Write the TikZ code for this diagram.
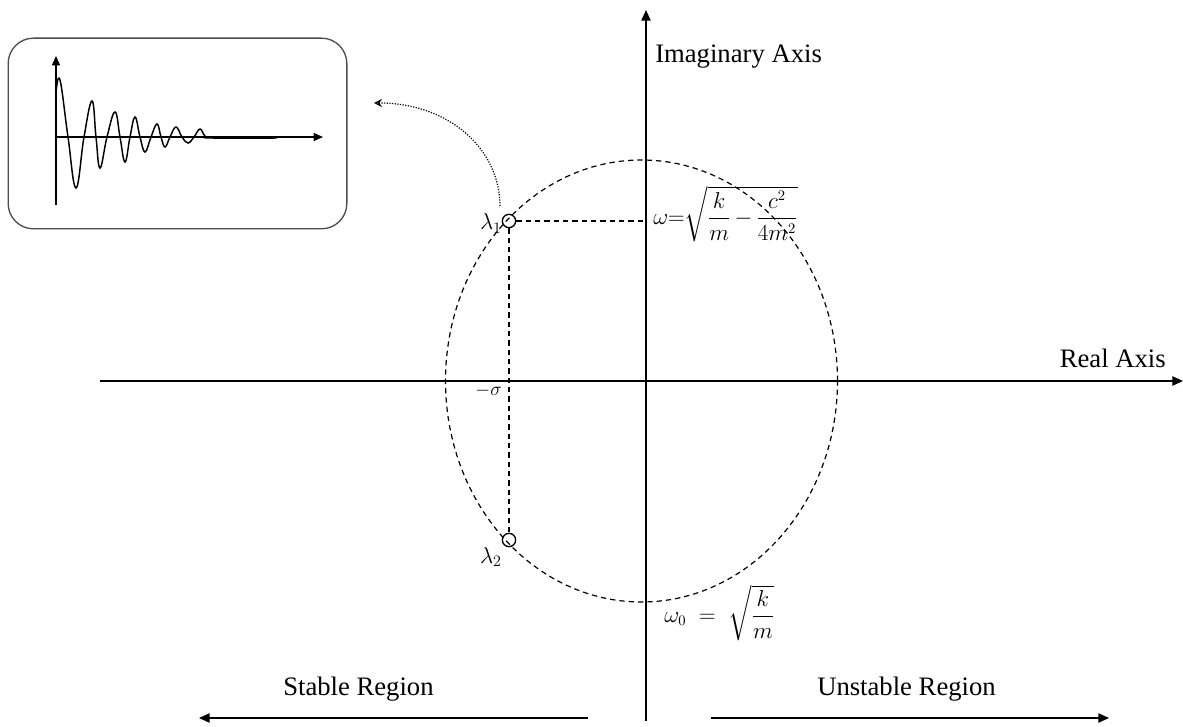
\documentclass[tikz,border=0pt]{standalone}
\usepackage{fontspec}
\setmainfont{Liberation Serif}
\usepackage{amsmath}
\usetikzlibrary{arrows.meta}
\begin{document}
\begin{tikzpicture}[x=0.75pt,y=-0.75pt,
  axis/.style={line width=1.1pt,-{Triangle[length=8pt,width=7pt]}},
  dsh/.style={line width=0.9pt,dash pattern=on 4pt off 3pt},
  lbl/.style={font=\fontsize{20}{24}\selectfont, inner sep=0pt},
  mlbl/.style={font=\fontsize{16}{19}\selectfont, inner sep=0pt},
  slbl/.style={font=\fontsize{15}{18}\selectfont, inner sep=0pt},
  plbl/.style={font=\fontsize{18}{21}\selectfont, inner sep=0pt},
  pole/.style={circle,draw,line width=1pt,minimum size=10pt,inner sep=0pt},
  insetbox/.style={draw=black!70,line width=1pt,rounded corners=19pt,minimum width=254pt,minimum height=143pt,inner sep=0pt},
  small axis/.style={line width=0.9pt,-{Triangle[length=7pt,width=6pt]}},
  dotarrow/.style={line width=0.9pt,dash pattern=on 0.9pt off 1.1pt,-{Stealth[length=6pt,width=6pt,open]}}
]
\useasboundingbox (0,0) rectangle (1183,727);

% axes
\coordinate (xL) at (100,381);
\coordinate (xR) at (1183,381);
\coordinate (yB) at (646,721);
\coordinate (yT) at (646,10);
\draw[axis] (xL) -- (xR);
\draw[axis] (yB) -- (yT);

% dashed ellipse
\draw[dsh] (641.5,381) ellipse [x radius=147pt, y radius=165.75pt];

% poles
\node[pole] (l1) at (509,221) {};
\node[pole] (l2) at (509,540) {};
\coordinate (w) at (646,221);
\draw[dsh] (l1) -- (w);
\draw[dsh] (l1) -- (l2);

% labels
\node[plbl, anchor=base east] (l1lab) at (502,230) {$\lambda_1$};
\node[plbl, anchor=base east] (l2lab) at (502,563) {$\lambda_2$};
\node[slbl, anchor=base east] (sig) at (502,396) {$-\sigma$};
\node[mlbl, anchor=west] (om) at (653,214) {$\omega{=}\sqrt{\dfrac{k}{m}\,{-}\,\dfrac{c^2}{4m^2}}$};
\node[mlbl, anchor=west] (om0) at (664,613) {$\omega_0\;=\;\sqrt{\dfrac{k}{m}}$};

\node[lbl, anchor=base west] (ia) at (655,63) {Imaginary Axis};
\node[lbl, anchor=base east] (ra) at (1166,368) {Real Axis};
\node[lbl, anchor=base west] (st) at (283,695) {Stable Region};
\node[lbl, anchor=base west] (un) at (817,695) {Unstable Region};

\coordinate (sA) at (588,718);
\coordinate (sB) at (199,718);
\coordinate (uA) at (711,718);
\coordinate (uB) at (1109,718);
\draw[axis] (sA) -- (sB);
\draw[axis] (uA) -- (uB);

% inset
\node[insetbox] (inset) at (177.5,133.5) {};
\draw[small axis] (56,205) -- (56,56);
\draw[small axis] (56,137) -- (323,137);
\draw[line width=1.1pt] plot[smooth, tension=0.7] coordinates {(56,93) (60,80) (68,137) (76,188) (84,137) (92,101) (96,137) (100,168) (107,137) (115,112) (120,137) (125,162) (130,137) (135,117) (140,137) (145,152) (151,137) (157,124) (161,137) (165,147) (170,137) (176,127) (182,137) (188,143) (194,137) (200,129) (205,136) (212,138) (277,138)};

% dotted arrow to inset
\coordinate (src) at (500,206);
\coordinate (tgt) at (374,103);
\draw[dotarrow] (src) .. controls (500,150) and (450,103) .. (tgt);
\end{tikzpicture}
\end{document}
